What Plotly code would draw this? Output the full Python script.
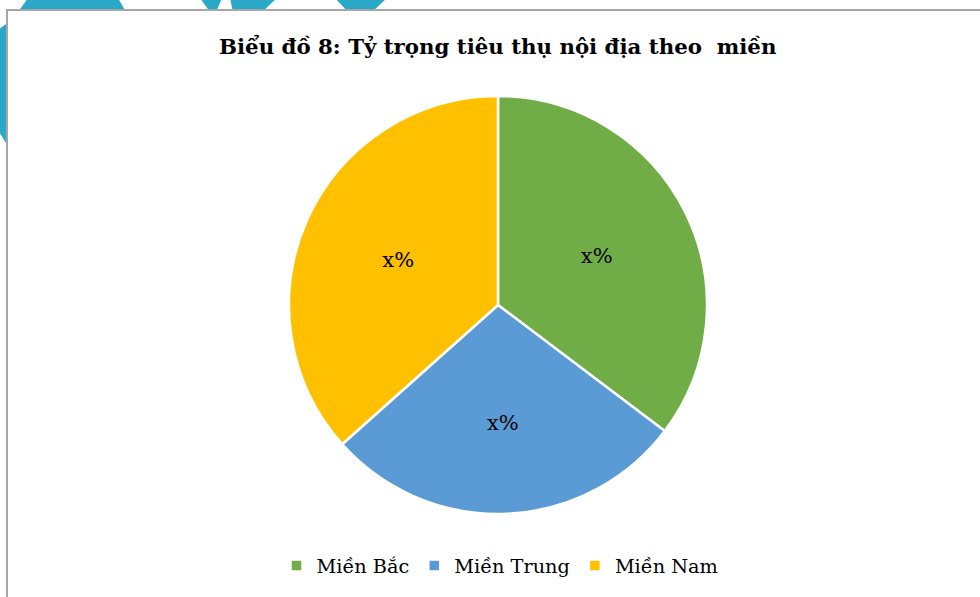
import plotly.graph_objects as go

W, H = 980, 597

regions = ["Miền Bắc", "Miền Trung", "Miền Nam"]
shares = [35.3, 28.1, 36.6]
label_texts = ["x%", "x%", "x%"]
colors = ["#70AD47", "#5B9BD5", "#FFC000"]
title_text = "Biểu đồ 8: Tỷ trọng tiêu thụ nội địa theo  miền"

def px(x):
    return x / W

def py(y):
    return 1 - y / H

# pie geometry (pixels)
cx, cy, r = 498, 305, 209

fig = go.Figure()
fig.add_trace(go.Pie(
    labels=regions,
    values=shares,
    text=label_texts,
    textinfo="text",
    textposition="inside",
    insidetextorientation="horizontal",
    sort=False,
    direction="clockwise",
    rotation=0,
    marker=dict(colors=colors, line=dict(color="white", width=2.5)),
    textfont=dict(family="DejaVu Serif", size=21, color="#000000"),
    domain=dict(x=[px(cx - r), px(cx + r)], y=[py(cy + r), py(cy - r)]),
    hoverinfo="label+percent",
))

cyan = "#29A9C7"
def poly(pts):
    d = "M " + " L ".join(f"{px(x)},{py(y)}" for x, y in pts) + " Z"
    return dict(type="path", xref="paper", yref="paper", path=d,
                fillcolor=cyan, line=dict(width=0), layer="below")

shapes = [
    poly([(28, -2), (118, -2), (126, 12), (18, 12)]),
    poly([(200, -2), (222, -2), (216, 12), (210, 12)]),
    poly([(230, -2), (277, -2), (262, 12), (233, 12)]),
    poly([(335, -2), (387, -2), (372, 12), (348, 12)]),
    poly([(-2, 30), (6, 24), (9, 24), (9, 143), (6, 143), (-2, 130)]),
    dict(type="rect", xref="paper", yref="paper",
         x0=px(7), x1=px(W + 20), y0=py(H + 20), y1=py(10),
         fillcolor="white", line=dict(color="#A6A6A6", width=2), layer="below"),
]

fig.update_layout(
    width=W, height=H,
    margin=dict(l=0, r=0, t=0, b=0),
    paper_bgcolor="white",
    plot_bgcolor="white",
    shapes=shapes,
    showlegend=True,
    legend=dict(orientation="h", x=px(500), xanchor="center", y=py(566), yanchor="middle",
                font=dict(family="DejaVu Serif", size=19.3, color="#000000"),
                itemwidth=30, traceorder="normal"),
    annotations=[dict(text="<b>" + title_text + "</b>", x=px(497), y=py(47),
                      xref="paper", yref="paper", xanchor="center", yanchor="middle",
                      showarrow=False,
                      font=dict(family="DejaVu Serif", size=21.3, color="#000000"))],
)

fig.write_html(
    "out.html",
    config={"displayModeBar": False},
    post_script="document.body.style.margin='0';document.body.style.overflow='hidden';",
)
